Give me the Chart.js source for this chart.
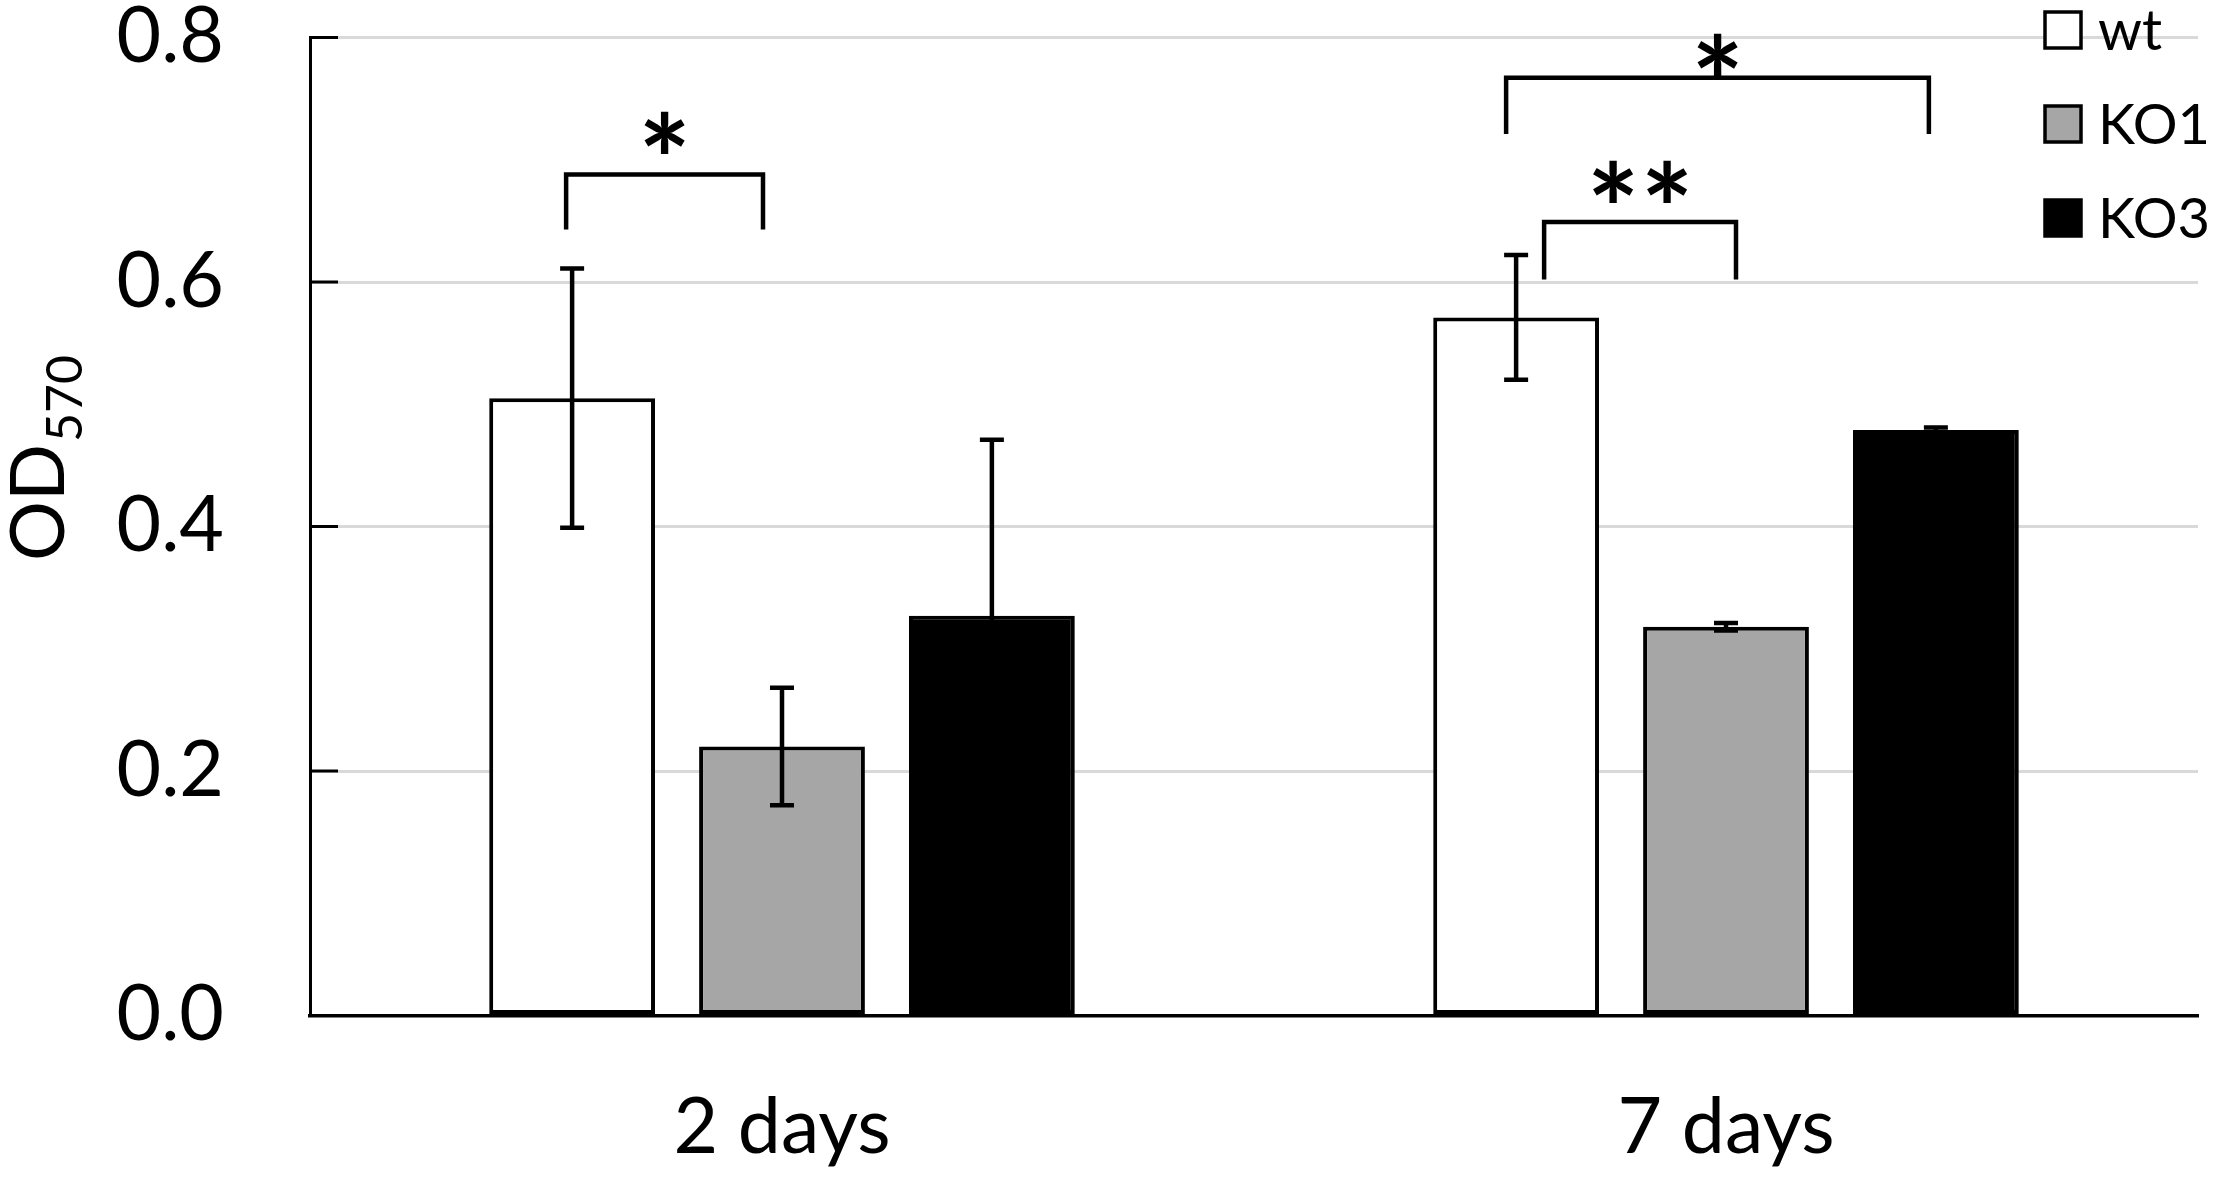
<!DOCTYPE html>
<html>
<head>
<meta charset="utf-8">
<script src="https://cdn.jsdelivr.net/npm/chart.js@4.4.1/dist/chart.umd.min.js"></script>
<style>
  html, body { margin: 0; padding: 0; background: #fff; }
  #wrap { width: 2217px; height: 1181px; position: relative; }
</style>
</head>
<body>
<div id="wrap"><canvas id="chartOD"></canvas></div>
<script>
const categories = ['2 days', '7 days'];
const seriesNames = ['wt', 'KO1', 'KO3'];
const wtValues = [0.505, 0.571];
const ko1Values = [0.220, 0.318];
const ko3Values = [0.327, 0.479];
const wtErrors = [0.106, 0.051];
const ko1Errors = [0.048, 0.003];
const ko3Errors = [0.144, 0.002];
const yTicks = [0, 0.2, 0.4, 0.6, 0.8];

// significance brackets: category, the two series compared, levels in OD units, label
const brackets = [
    { cat: 0, from: 0, to: 1, top: 0.688, leg: 0.643, starY: 0.722, label: '*' },
    { cat: 1, from: 0, to: 2, top: 0.767, leg: 0.721, starY: 0.786, label: '*' },
    { cat: 1, from: 0, to: 1, top: 0.649, leg: 0.602, starY: 0.682, label: '**' }
];
// small horizontal nudges of the bracket legs (px) relative to bar centres
const bracketNudge = [[-6, -19], [-10, -7], [28, 10]];

const FONT = 'Lato';

let errorBars = {
    id: 'errorBars',
    afterDatasetsDraw(chart) {
        let ctx = chart.ctx;
        let y = chart.scales.y;
        ctx.save();
        ctx.strokeStyle = '#000';
        ctx.lineWidth = 4.5;
        chart.data.datasets.forEach((ds, i) => {
            chart.getDatasetMeta(i).data.forEach((bar, j) => {
                let hi = y.getPixelForValue(ds.data[j] + ds.errors[j]);
                let lo = y.getPixelForValue(ds.data[j] - ds.errors[j]);
                ctx.beginPath();
                ctx.moveTo(bar.x, hi); ctx.lineTo(bar.x, lo);
                ctx.moveTo(bar.x - 12, hi); ctx.lineTo(bar.x + 12, hi);
                ctx.moveTo(bar.x - 12, lo); ctx.lineTo(bar.x + 12, lo);
                ctx.stroke();
            });
        });
        ctx.restore();
    }
};

let extras = {
    id: 'extras',
    afterDraw(chart) {
        let ctx = chart.ctx;
        let y = chart.scales.y;
        let area = chart.chartArea;
        ctx.save();

        // inner tick marks on the value axis
        ctx.strokeStyle = '#000';
        ctx.lineWidth = 3;
        yTicks.forEach(v => {
            let py = y.getPixelForValue(v);
            ctx.beginPath();
            ctx.moveTo(area.left, py);
            ctx.lineTo(area.left + 28, py);
            ctx.stroke();
        });

        // significance brackets
        ctx.lineWidth = 4.5;
        ctx.lineJoin = 'miter';
        brackets.forEach((b, k) => {
            let x1 = chart.getDatasetMeta(b.from).data[b.cat].x + bracketNudge[k][0];
            let x2 = chart.getDatasetMeta(b.to).data[b.cat].x + bracketNudge[k][1];
            let yt = y.getPixelForValue(b.top);
            let yl = y.getPixelForValue(b.leg);
            ctx.beginPath();
            ctx.moveTo(x1, yl); ctx.lineTo(x1, yt); ctx.lineTo(x2, yt); ctx.lineTo(x2, yl);
            ctx.stroke();

            ctx.fillStyle = '#000';
            ctx.font = 'bold 124px ' + FONT;
            ctx.textAlign = 'center';
            ctx.textBaseline = 'alphabetic';
            let m = ctx.measureText('*');
            let ys = y.getPixelForValue(b.starY);
            let base = ys + (m.actualBoundingBoxAscent - m.actualBoundingBoxDescent) / 2;
            let n = b.label.length;
            let mid = (x1 + x2) / 2;
            for (let i = 0; i < n; i++) {
                ctx.fillText('*', mid + (i - (n - 1) / 2) * 54, base);
            }
        });

        // legend, top right
        let rows = [30, 124, 218];
        chart.data.datasets.forEach((ds, i) => {
            ctx.fillStyle = ds.backgroundColor;
            ctx.fillRect(2045, rows[i] - 18, 36, 36);
            ctx.strokeStyle = '#000';
            ctx.lineWidth = 3.5;
            ctx.strokeRect(2045, rows[i] - 18, 36, 36);
            ctx.fillStyle = '#000';
            ctx.font = '56px ' + FONT;
            ctx.textAlign = 'left';
            ctx.textBaseline = 'middle';
            ctx.fillText(ds.label, 2098, rows[i] + 2);
        });

        // axis title OD with subscript 570
        ctx.translate(64, 561);
        ctx.rotate(-Math.PI / 2);
        ctx.fillStyle = '#000';
        ctx.textAlign = 'left';
        ctx.textBaseline = 'alphabetic';
        ctx.font = '75px ' + FONT;
        ctx.fillText('OD', 0, 0);
        let w = ctx.measureText('OD').width;
        ctx.font = '50px ' + FONT;
        ctx.fillText('570', w + 2, 18);

        ctx.restore();
    }
};

let contextOD = document.querySelector('#chartOD').getContext('2d');

let config = {
    type: 'bar',
    data: {
        labels: categories,
        datasets: [{
            label: seriesNames[0],
            data: wtValues,
            errors: wtErrors,
            backgroundColor: '#ffffff',
            borderColor: '#000000',
            borderWidth: 4,
            borderSkipped: false
        }, {
            label: seriesNames[1],
            data: ko1Values,
            errors: ko1Errors,
            backgroundColor: '#a6a6a6',
            borderColor: '#000000',
            borderWidth: 4,
            borderSkipped: false
        }, {
            label: seriesNames[2],
            data: ko3Values,
            errors: ko3Errors,
            backgroundColor: '#000000',
            borderColor: '#000000',
            borderWidth: 4,
            borderSkipped: false
        }]
    },
    options: {
        responsive: true,
        maintainAspectRatio: false,
        devicePixelRatio: 1,
        animation: false,
        categoryPercentage: 0.667,
        barPercentage: 0.79,
        layout: {
            padding: { top: 37.5, right: 19, left: 0, bottom: 0 }
        },
        plugins: {
            legend: { display: false },
            tooltip: { enabled: false }
        },
        scales: {
            x: {
                grid: { display: false, drawTicks: false },
                border: { display: true, color: '#000', width: 3.5 },
                ticks: {
                    font: { family: FONT, size: 77 },
                    color: '#000',
                    padding: 66
                },
                afterFit: s => { s.height = 165.5; }
            },
            y: {
                min: 0,
                max: 0.8,
                grid: { color: '#d9d9d9', lineWidth: 3, drawTicks: false },
                border: { color: '#000', width: 3 },
                ticks: {
                    font: { family: FONT, size: 77, lineHeight: 0.9 },
                    color: '#000',
                    padding: 86,
                    callback: v => v.toFixed(1)
                },
                afterBuildTicks: s => { s.ticks = yTicks.map(v => ({ value: v })); },
                afterFit: s => {
                    s.width = 310;
                    s.paddingTop = 0;
                    s.paddingBottom = 0;
                }
            }
        }
    },
    plugins: [errorBars, extras]
};

let chartOD = new Chart(contextOD, config);
</script>
</body>
</html>
